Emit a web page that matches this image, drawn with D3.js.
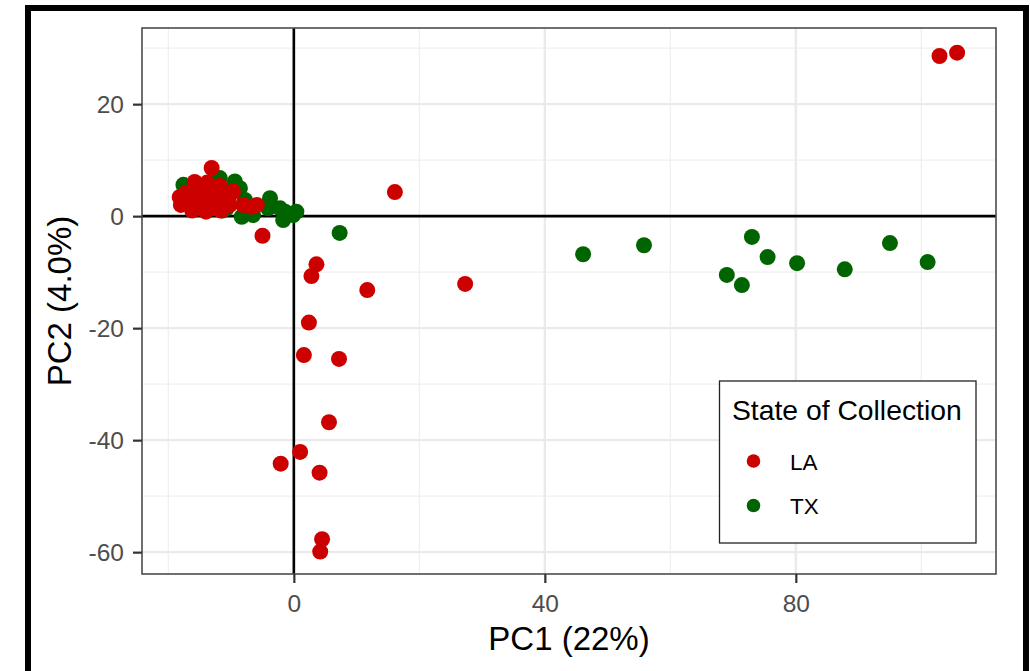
<!DOCTYPE html>
<html>
<head>
<meta charset="utf-8">
<script src="https://cdn.jsdelivr.net/npm/d3@7"></script>
<style>
  html, body { margin: 0; padding: 0; background: #fff; }
  svg { display: block; font-family: "Liberation Sans", Arial, sans-serif; }
</style>
</head>
<body>
<svg id="chart" width="1030" height="671"></svg>
<script>
// PCA scores by state of collection
const laPC1 = [-18.2, -18.0, -17.2, -16.6, -16.2, -15.8, -15.4, -15.0, -14.6, -14.2, -14.0, -13.8, -13.4, -13.1, -12.8,
  -12.6, -12.2, -11.8, -11.6, -11.3, -11.0, -10.4, -10.2, -9.7, -16.8, -14.8, -12.0, -8.1, -6.8, -5.9,
  -5.0, 16.1, 3.6, 2.8, 11.7, 27.3, 2.4, 1.6, 7.2, 5.6, 1.0, -2.1, 4.1, 4.5, 4.2, 102.9, 105.7];
const laPC2 = [3.4, 2.0, 4.2, 2.6, 1.0, 6.1, 3.6, 5.0, 2.2, 4.4, 0.8, 6.0, 3.0, 8.6, 5.0,
  1.4, 3.8, 5.4, 1.0, 4.0, 2.6, 3.2, 2.0, 4.4, 3.0, 3.2, 2.6, 2.0, 1.7, 2.0,
  -3.5, 4.3, -8.6, -10.7, -13.2, -12.1, -19.0, -24.8, -25.5, -36.8, -42.1, -44.2, -45.8, -57.7, -59.9, 28.6, 29.2];

const txPC1 = [-17.6, -16.8, -12.6, -11.8, -9.4, -8.6, -9.9, -10.7, -11.4, -7.8, -8.3, -6.5, -3.8, -4.1, -2.2,
  -1.4, -1.7, -0.1, 0.4,
  7.3, 46.1, 55.8, 69.0, 71.4, 73.0, 75.5, 80.2, 87.8, 95.0, 101.0];
const txPC2 = [5.6, 4.6, 6.6, 6.8, 6.2, 5.0, 4.7, 1.4, 1.0, 2.9, -0.1, 0.2, 3.2, 1.4, 1.4,
  0.8, -0.7, 0.2, 0.8,
  -3.0, -6.8, -5.2, -10.5, -12.3, -3.7, -7.3, -8.4, -9.5, -4.8, -8.2];

const states = ["LA", "TX"];
const stateColors = ["#CD0000", "#006400"];

const xLimits = [-24.2, 111.9];
const yLimits = [-63.9, 33.6];
const xTicks = [0, 40, 80];
const yTicks = [-60, -40, -20, 0, 20];
const xMinor = [-20, 20, 60, 100];
const yMinor = [-50, -30, -10, 10, 30];

const xTitle = "PC1 (22%)";
const yTitle = "PC2 (4.0%)";
const legendTitle = "State of Collection";

const svg = d3.select("#chart");

// outer black frame
svg.append("rect")
  .attr("x", 28).attr("y", 8)
  .attr("width", 998).attr("height", 720)
  .attr("fill", "none").attr("stroke", "#000").attr("stroke-width", 6);

const panel = { left: 142, right: 996, top: 28, bottom: 574 };

const x = d3.scaleLinear().domain(xLimits).range([panel.left, panel.right]);
const y = d3.scaleLinear().domain(yLimits).range([panel.bottom, panel.top]);

const g = svg.append("g");

// minor grid
g.selectAll(".xminor").data(xMinor).join("line")
  .attr("x1", d => x(d)).attr("x2", d => x(d))
  .attr("y1", panel.top).attr("y2", panel.bottom)
  .attr("stroke", "#F0F0F0").attr("stroke-width", 1.3);
g.selectAll(".yminor").data(yMinor).join("line")
  .attr("y1", d => y(d)).attr("y2", d => y(d))
  .attr("x1", panel.left).attr("x2", panel.right)
  .attr("stroke", "#F0F0F0").attr("stroke-width", 1.3);

// major grid
g.selectAll(".xmajor").data(xTicks).join("line")
  .attr("x1", d => x(d)).attr("x2", d => x(d))
  .attr("y1", panel.top).attr("y2", panel.bottom)
  .attr("stroke", "#EAEAEA").attr("stroke-width", 2.4);
g.selectAll(".ymajor").data(yTicks).join("line")
  .attr("y1", d => y(d)).attr("y2", d => y(d))
  .attr("x1", panel.left).attr("x2", panel.right)
  .attr("stroke", "#EAEAEA").attr("stroke-width", 2.4);

// reference lines through the origin
g.append("line")
  .attr("x1", panel.left).attr("x2", panel.right)
  .attr("y1", y(0)).attr("y2", y(0))
  .attr("stroke", "#000").attr("stroke-width", 2.6);
g.append("line")
  .attr("x1", x(0)).attr("x2", x(0))
  .attr("y1", panel.top).attr("y2", panel.bottom)
  .attr("stroke", "#000").attr("stroke-width", 2.6);

// points
const txData = txPC1.map((v, i) => [v, txPC2[i]]);
const laData = laPC1.map((v, i) => [v, laPC2[i]]);

g.selectAll(".tx").data(txData).join("circle")
  .attr("cx", d => x(d[0])).attr("cy", d => y(d[1]))
  .attr("r", 8).attr("fill", stateColors[1]);
g.selectAll(".la").data(laData).join("circle")
  .attr("cx", d => x(d[0])).attr("cy", d => y(d[1]))
  .attr("r", 8).attr("fill", stateColors[0]);

// panel border
g.append("rect")
  .attr("x", panel.left).attr("y", panel.top)
  .attr("width", panel.right - panel.left).attr("height", panel.bottom - panel.top)
  .attr("fill", "none").attr("stroke", "#4D4D4D").attr("stroke-width", 1.6);

// axes
const xAxis = svg.append("g")
  .attr("transform", `translate(0,${panel.bottom})`)
  .call(d3.axisBottom(x).tickValues(xTicks).tickSize(9).tickPadding(6).tickFormat(d3.format("d")));
const yAxis = svg.append("g")
  .attr("transform", `translate(${panel.left},0)`)
  .call(d3.axisLeft(y).tickValues(yTicks).tickSize(9).tickPadding(9).tickFormat(d => d < 0 ? "-" + Math.abs(d) : d));

[xAxis, yAxis].forEach(a => {
  a.select(".domain").remove();
  a.selectAll(".tick line").attr("stroke", "#333").attr("stroke-width", 2.2);
  a.selectAll(".tick text")
    .attr("fill", "#4D4D4D")
    .style("font-size", "24.5px")
    .style("font-family", "'Liberation Sans', Arial, sans-serif");
});
xAxis.selectAll(".tick text").attr("dy", "0.95em");
yAxis.selectAll(".tick text").attr("dy", "0.36em");

// axis titles
svg.append("text")
  .attr("x", (panel.left + panel.right) / 2).attr("y", 650)
  .attr("text-anchor", "middle")
  .style("font-size", "33px").attr("fill", "#000")
  .text(xTitle);
svg.append("text")
  .attr("transform", `translate(71,${(panel.top + panel.bottom) / 2}) rotate(-90)`)
  .attr("text-anchor", "middle")
  .style("font-size", "33px").attr("fill", "#000")
  .text(yTitle);

// legend
const legend = svg.append("g");
legend.append("rect")
  .attr("x", 719.5).attr("y", 381)
  .attr("width", 256.5).attr("height", 162)
  .attr("fill", "#fff").attr("stroke", "#222").attr("stroke-width", 1.3);
legend.append("text")
  .attr("x", 732).attr("y", 420)
  .style("font-size", "28.3px").attr("fill", "#000")
  .text(legendTitle);
const items = legend.selectAll(".item").data(states).join("g")
  .attr("transform", (d, i) => `translate(0,${461 + i * 44.5})`);
items.append("circle")
  .attr("cx", 753.5).attr("cy", 0).attr("r", 6.8)
  .attr("fill", (d, i) => stateColors[i]);
items.append("text")
  .attr("x", 790).attr("y", 8.5)
  .style("font-size", "22.5px").attr("fill", "#000")
  .text(d => d);
</script>
</body>
</html>
